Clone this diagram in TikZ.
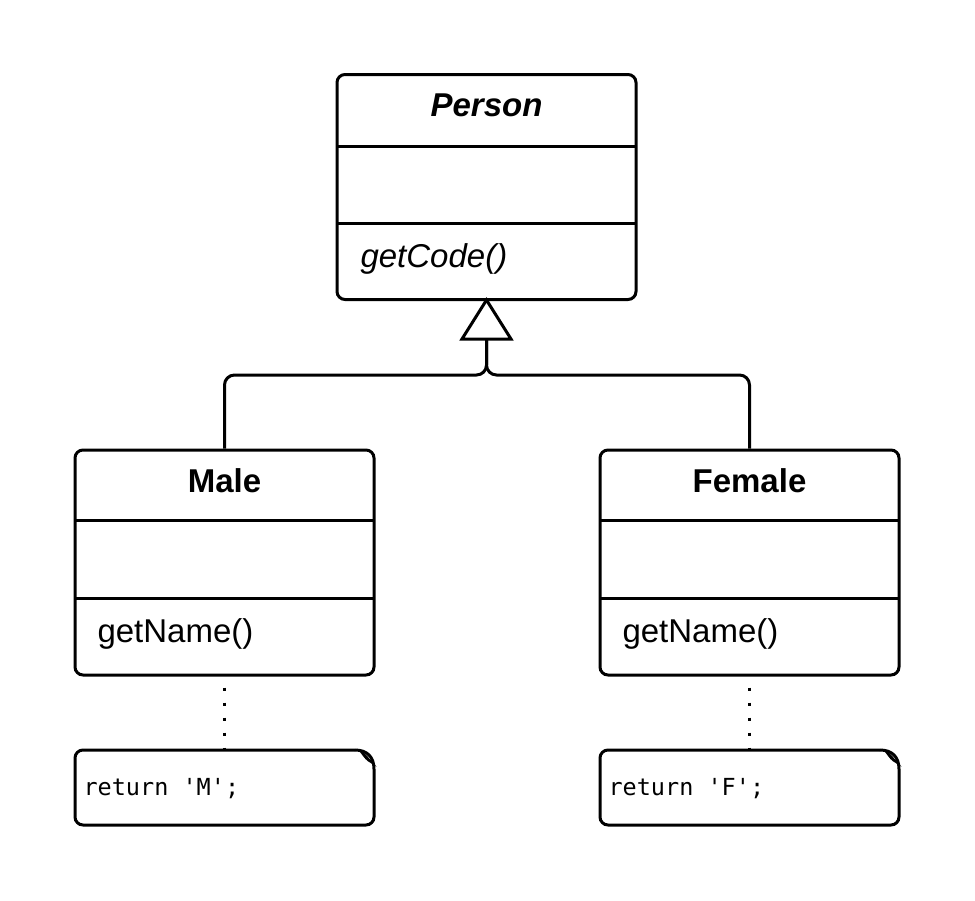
\documentclass[tikz,border=0pt]{standalone}
\usepackage{fontspec}
\setmainfont{Liberation Sans}
\newfontfamily\codefont{DejaVu Sans Mono}
\usetikzlibrary{positioning}
\tikzset{
  x=1pt, y=-1pt,
  umlbox/.style={draw, line width=3pt, rounded corners=8pt, minimum width=299pt, minimum height=225pt, inner sep=0pt},
  sep/.style={line width=3pt},
  conn/.style={line width=3pt, rounded corners=10pt},
  dotline/.style={line width=3pt, dash pattern=on 3pt off 12pt},
  ttl/.style={font=\fontsize{33}{38}\selectfont\bfseries},
  mem/.style={font=\fontsize{33}{38}\selectfont, anchor=west},
  code/.style={font=\fontsize{23.5}{28}\codefont, anchor=west},
}
\begin{document}
\begin{tikzpicture}
\useasboundingbox (0,0) rectangle (975,900);
% Person
\node[umlbox] (person) at (486.5,187) {};
\draw[sep] (337,146) -- (636,146);
\draw[sep] (337,223) -- (636,223);
\node[ttl, font=\fontsize{33}{38}\selectfont\bfseries\itshape] (ptitle) at (486.5,105) {Person};
\node[mem, font=\fontsize{33}{38}\selectfont\itshape] (pm) at (357,259) {getCode()};
% Male
\node[umlbox] (male) at (224.5,562.5) {};
\draw[sep] (75,520) -- (374,520);
\draw[sep] (75,598) -- (374,598);
\node[ttl] (mtitle) at (224.5,481) {Male};
\node[mem] (mm) at (94,634) {getName()};
% Female
\node[umlbox] (female) at (749.5,562.5) {};
\draw[sep] (600,520) -- (899,520);
\draw[sep] (600,598) -- (899,598);
\node[ttl] (ftitle) at (749.5,481) {Female};
\node[mem] (fm) at (619,634) {getName()};
% generalization
\coordinate (tribase) at (486.5,339);
\draw[line width=3pt, fill=white, line join=miter] (462,339) -- (486.5,300) -- (511,339) -- cycle;
\draw[conn] (tribase) -- (486.5,375) -| (male.north);
\draw[conn] (tribase) -- (486.5,375) -| (female.north);
% notes
\foreach \nx/\nm/\txt in {75/mnote/{return 'M';}, 600/fnote/{return 'F';}} {
  \draw[line width=3pt, rounded corners=8pt]
    (\nx+280,750) -- (\nx,750) -- (\nx,825) -- (\nx+299,825) -- (\nx+299,769);
  \draw[line width=3pt] (\nx+280,750) .. controls (\nx+292,750) and (\nx+299,757) .. (\nx+299,769);
  \draw[line width=2pt, fill=black] (\nx+287,753) .. controls (\nx+290,757) and (\nx+292,760) .. (\nx+296,762) .. controls (\nx+292,758) and (\nx+291,755) .. cycle;
  \node[code] (\nm) at (\nx+5,789) {\txt};
}
\coordinate (mtop) at (224.5,750);
\coordinate (ftop) at (749.5,750);
\draw[dotline] (male.south) ++(0,11) -- (mtop);
\draw[dotline] (female.south) ++(0,11) -- (ftop);
\end{tikzpicture}
\end{document}
